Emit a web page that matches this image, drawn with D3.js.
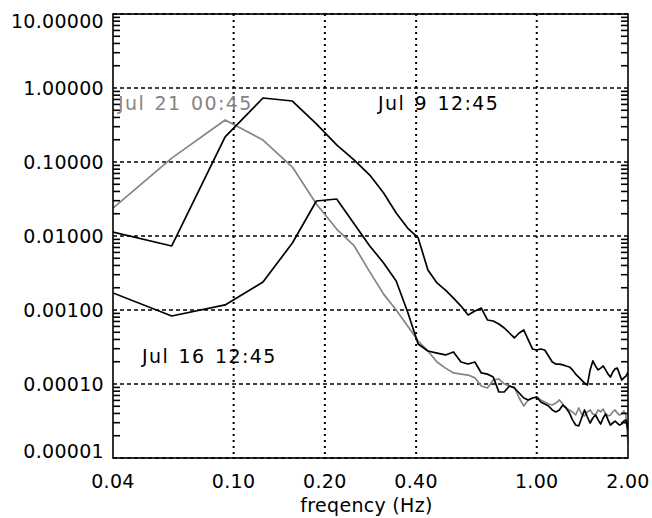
<!DOCTYPE html>
<html>
<head>
<meta charset="utf-8">
<script src="https://cdn.jsdelivr.net/npm/d3@7"></script>
<style>
  body { margin: 0; background: #fff; }
  svg text { font-family: "DejaVu Sans", sans-serif; fill: #000; }
</style>
</head>
<body>
<svg id="chart" width="652" height="518"></svg>
<script>

/****** Data ******/

// frequency grid in Hz (first point is where the curves enter at the left edge)
var freqs = [0.04, 0.0625, 0.09375, 0.125, 0.15625, 0.1875, 0.21875, 0.25, 0.28125, 0.3125,
  0.34375, 0.375, 0.40625, 0.4375, 0.46875, 0.5, 0.53125, 0.5625, 0.59375, 0.625,
  0.65625, 0.6875, 0.71875, 0.75, 0.78125, 0.8125, 0.84375, 0.875, 0.90625, 0.9375,
  0.96875, 1, 1.03125, 1.0625, 1.09375, 1.125, 1.15625, 1.1875, 1.21875, 1.25,
  1.28125, 1.3125, 1.34375, 1.375, 1.40625, 1.4375, 1.46875, 1.5, 1.53125, 1.5625,
  1.59375, 1.625, 1.65625, 1.6875, 1.71875, 1.75, 1.78125, 1.8125, 1.84375, 1.875,
  1.90625, 1.9375, 1.96875, 2];

var jul9 = [1.13e-2, 7.33e-3, 0.218, 0.733, 0.667, 0.327, 0.170, 0.106, 6.67e-2, 3.81e-2,
  2.05e-2, 1.28e-2, 9.4e-3, 3.47e-3, 2.32e-3, 1.86e-3, 1.45e-3, 1.13e-3, 8.55e-4, 9.68e-4,
  1.06e-3, 7.33e-4, 7.10e-4, 6.47e-4, 5.71e-4, 4.89e-4, 4.19e-4, 4.89e-4, 5.37e-4, 3.94e-4,
  2.97e-4, 2.88e-4, 2.97e-4, 2.88e-4, 2.39e-4, 1.98e-4, 1.86e-4, 1.86e-4, 1.81e-4, 1.75e-4,
  1.70e-4, 1.55e-4, 1.36e-4, 1.24e-4, 1.13e-4, 1.03e-4, 9.68e-5, 1.55e-4, 2.05e-4, 1.75e-4,
  1.55e-4, 1.64e-4, 1.75e-4, 1.55e-4, 1.36e-4, 1.24e-4, 1.45e-4, 1.60e-4, 1.64e-4, 1.36e-4,
  1.13e-4, 1.21e-4, 1.28e-4, 1.45e-4];

var jul16 = [1.70e-3, 8.30e-4, 1.17e-3, 2.39e-3, 8.04e-3, 2.97e-2, 3.16e-2, 1.45e-2, 7.33e-3, 4.32e-3,
  2.47e-3, 9.40e-4, 3.47e-4, 2.79e-4, 2.62e-4, 2.47e-4, 2.71e-4, 1.98e-4, 1.86e-4, 1.98e-4,
  1.41e-4, 1.36e-4, 1.24e-4, 7.80e-5, 7.80e-5, 9.40e-5, 8.83e-5, 7.55e-5, 6.47e-5, 6.08e-5,
  6.47e-5, 6.67e-5, 5.71e-5, 5.37e-5, 5.05e-5, 4.46e-5, 4.19e-5, 4.46e-5, 5.20e-5, 4.74e-5,
  4.06e-5, 3.27e-5, 2.79e-5, 2.71e-5, 3.47e-5, 4.46e-5, 3.58e-5, 2.97e-5, 3.47e-5, 3.81e-5,
  3.27e-5, 2.88e-5, 3.47e-5, 3.94e-5, 3.27e-5, 2.79e-5, 2.97e-5, 3.16e-5, 2.97e-5, 2.79e-5,
  2.88e-5, 3.16e-5, 3.27e-5, 2.39e-5];

var jul21 = [2.39e-2, 0.113, 0.370, 0.198, 8.55e-2, 2.71e-2, 1.24e-2, 7.33e-3, 3.27e-3, 1.64e-3,
  1.00e-3, 6.08e-4, 3.81e-4, 2.79e-4, 1.98e-4, 1.64e-4, 1.41e-4, 1.36e-4, 1.32e-4, 1.21e-4,
  9.40e-5, 8.83e-5, 1.13e-4, 1.17e-4, 1.00e-4, 9.40e-5, 9.10e-5, 6.47e-5, 5.05e-5, 6.08e-5,
  6.47e-5, 6.67e-5, 6.08e-5, 5.71e-5, 5.37e-5, 5.20e-5, 5.53e-5, 6.08e-5, 5.37e-5, 4.74e-5,
  4.46e-5, 4.19e-5, 3.81e-5, 4.74e-5, 3.94e-5, 3.70e-5, 4.19e-5, 4.46e-5, 3.94e-5, 3.81e-5,
  4.46e-5, 4.19e-5, 4.59e-5, 3.94e-5, 3.70e-5, 3.81e-5, 4.19e-5, 4.46e-5, 4.06e-5, 3.81e-5,
  3.94e-5, 4.32e-5, 3.81e-5, 1.64e-5];

var seriesNames = ["Jul 9 12:45", "Jul 16 12:45", "Jul 21 00:45"];

var xTicks = [0.04, 0.1, 0.2, 0.4, 1, 2];
var xTickLabels = ["0.04", "0.10", "0.20", "0.40", "1.00", "2.00"];
var yTicks = [1e-5, 1e-4, 1e-3, 1e-2, 1e-1, 1, 10];
var yTickLabels = ["0.00001", "0.00010", "0.00100", "0.01000", "0.10000", "1.00000", "10.00000"];
var xTitle = "freqency (Hz)";

/****** Chart ******/

var _svg = d3.select("#chart"),
    _left = 113, _right = 628, _top = 14, _bottom = 458,
    _gray = "#858585";

var x = d3.scaleLog().domain([0.04, 2]).range([_left, _right]);
var y = d3.scaleLog().domain([1e-5, 10]).range([_bottom, _top]);

// minor ticks 2..9 for every decade
var minorTicks = [];
yTicks.slice(0, -1).forEach(function (d) {
  for (var m = 2; m <= 9; m++) minorTicks.push(d * m);
});

_svg.append("clipPath").attr("id", "plotClip")
    .append("rect")
    .attr("x", _left).attr("y", _top)
    .attr("width", _right - _left).attr("height", _bottom - _top);

// grid: dashed horizontals, dotted verticals
_svg.append("g").selectAll("line")
    .data(yTicks)
  .enter().append("line")
    .attr("x1", _left).attr("x2", _right)
    .attr("y1", function (d) { return y(d); })
    .attr("y2", function (d) { return y(d); })
    .attr("stroke", "#000").attr("stroke-width", 1.6)
    .attr("stroke-dasharray", "4,3");

_svg.append("g").selectAll("line")
    .data(xTicks.slice(1, -1))
  .enter().append("line")
    .attr("y1", _top).attr("y2", _bottom)
    .attr("x1", function (d) { return x(d); })
    .attr("x2", function (d) { return x(d); })
    .attr("stroke", "#000").attr("stroke-width", 2)
    .attr("stroke-dasharray", "2,4");

// curves
var line = d3.line()
    .x(function (d) { return x(d[0]); })
    .y(function (d) { return y(d[1]); });

var curves = [
  { values: jul21, color: _gray },
  { values: jul9, color: "#000" },
  { values: jul16, color: "#000" }
];

_svg.append("g").attr("clip-path", "url(#plotClip)")
    .selectAll("path")
    .data(curves)
  .enter().append("path")
    .attr("d", function (c) { return line(d3.zip(freqs, c.values)); })
    .attr("fill", "none")
    .attr("stroke", function (c) { return c.color; })
    .attr("stroke-width", 1.7)
    .attr("stroke-linejoin", "round");

// frame
_svg.append("rect")
    .attr("x", _left).attr("y", _top)
    .attr("width", _right - _left).attr("height", _bottom - _top)
    .attr("fill", "none").attr("stroke", "#000").attr("stroke-width", 1.6);

// minor ticks on left and right edges (pointing inward)
function minorTickMarks(x0, dir) {
  _svg.append("g").selectAll("line")
      .data(minorTicks)
    .enter().append("line")
      .attr("x1", x0).attr("x2", x0 + dir * 7)
      .attr("y1", function (d) { return y(d); })
      .attr("y2", function (d) { return y(d); })
      .attr("stroke", "#000").attr("stroke-width", 1.6);
}
minorTickMarks(_left, 1);
minorTickMarks(_right, -1);

// tick labels
_svg.append("g").selectAll("text")
    .data(yTicks)
  .enter().append("text")
    .attr("x", _left - 9)
    .attr("y", function (d) {
      var yy = y(d) + 7;
      return Math.max(_top + 14, Math.min(_bottom, yy));
    })
    .attr("text-anchor", "end")
    .attr("font-size", 19)
    .attr("letter-spacing", 0.3)
    .text(function (d, i) { return yTickLabels[i]; });

_svg.append("g").selectAll("text")
    .data(xTicks)
  .enter().append("text")
    .attr("x", function (d) { return x(d); })
    .attr("y", _bottom + 30)
    .attr("text-anchor", "middle")
    .attr("font-size", 19)
    .attr("letter-spacing", 0.3)
    .text(function (d, i) { return xTickLabels[i]; });

_svg.append("text")
    .attr("x", (_left + _right) / 2 - 4)
    .attr("y", 512)
    .attr("text-anchor", "middle")
    .attr("font-size", 19)
    .attr("letter-spacing", 0.3)
    .text(xTitle);

// curve annotations
var notes = [
  { text: seriesNames[0], x: 378, y: 110, color: "#000" },
  { text: seriesNames[1], x: 142, y: 363, color: "#000" },
  { text: seriesNames[2], x: 118, y: 110, color: _gray }
];

_svg.append("g").selectAll("text")
    .data(notes)
  .enter().append("text")
    .attr("x", function (d) { return d.x; })
    .attr("y", function (d) { return d.y; })
    .attr("font-size", 19)
    .attr("letter-spacing", 1.4)
    .attr("word-spacing", 2)
    .style("fill", function (d) { return d.color; })
    .text(function (d) { return d.text; });

</script>
</body>
</html>
